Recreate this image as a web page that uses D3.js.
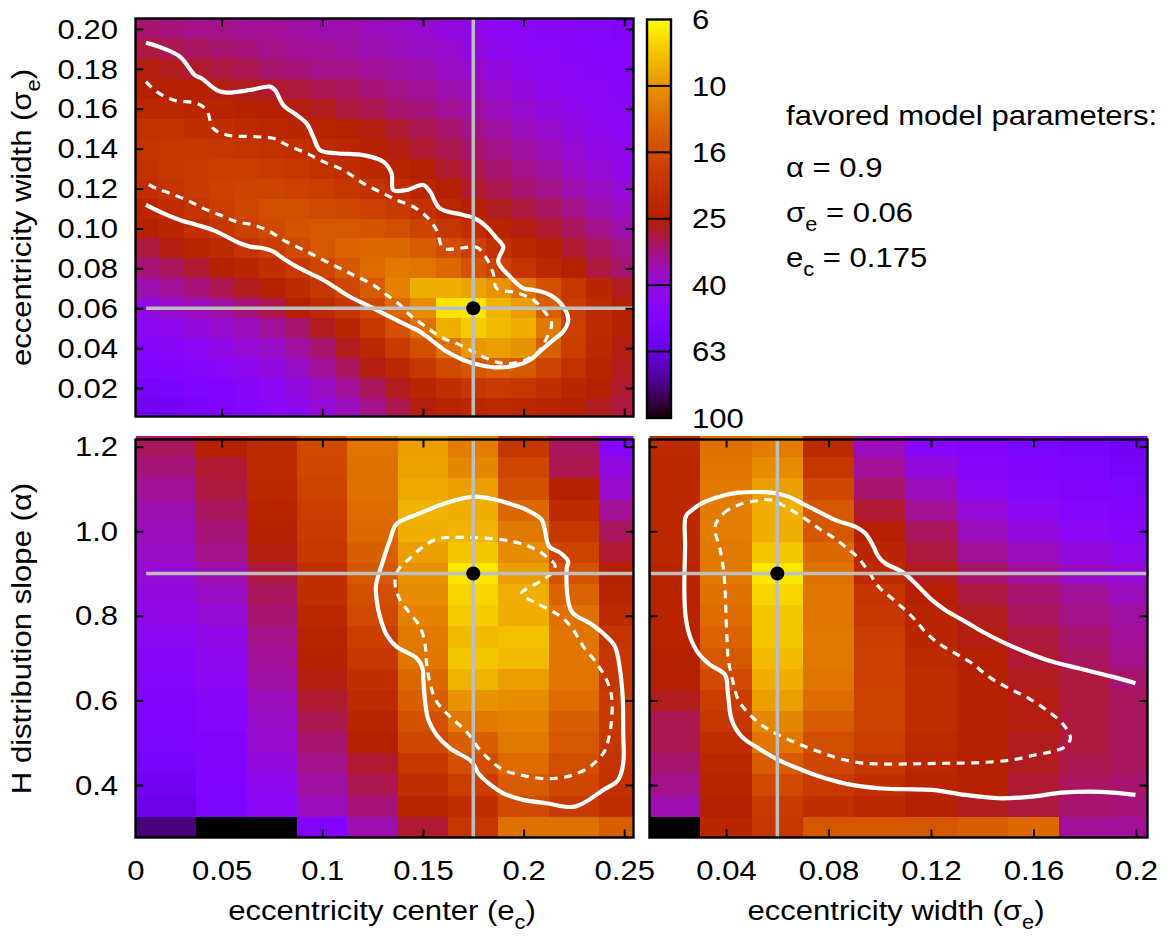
<!DOCTYPE html>
<html><head><meta charset="utf-8">
<script src="https://cdn.jsdelivr.net/npm/d3@7/dist/d3.min.js"></script>
<style>
html,body{margin:0;padding:0;background:#fff}
svg text{font-family:"Liberation Sans",Arial,Helvetica,sans-serif;fill:#000}
</style></head><body>
<svg id="chart" width="1172" height="937"></svg>
<script>
// ---------------- DATA ----------------
// top panel: chi2 over (eccentricity center, eccentricity width)
const topEc = [0.0125,0.025,0.0375,0.05,0.0625,0.075,0.0875,0.1,0.1125,0.125,0.1375,0.15,0.1625,0.175,0.1875,0.2,0.2125,0.225,0.2375,0.25];
const topSigma = [0.20,0.19,0.18,0.17,0.16,0.15,0.14,0.13,0.12,0.11,0.10,0.09,0.08,0.07,0.06,0.05,0.04,0.03,0.02,0.01];
const topChi2 = [
[30.5,31.3,32.2,32.2,33.1,33.1,34.0,35.0,35.0,36.0,37.0,38.0,40.2,41.3,43.7,44.9,46.1,47.4,47.4,48.8],
[28.1,28.8,29.6,30.5,31.3,32.2,33.1,33.1,34.0,35.0,36.0,37.0,38.0,40.2,42.5,43.7,44.9,46.1,47.4,47.4],
[25.8,26.5,27.3,28.1,28.8,30.5,31.3,32.2,32.2,33.1,34.0,35.0,37.0,38.0,40.2,42.5,43.7,44.9,46.1,47.4],
[24.4,24.4,25.1,25.8,26.5,27.3,28.1,28.8,29.6,31.3,32.2,33.1,35.0,36.0,38.0,40.2,42.5,43.7,44.9,46.1],
[22.5,22.5,23.1,23.8,24.4,25.1,25.8,26.5,28.1,28.8,30.5,31.3,33.1,34.0,36.0,38.0,40.2,42.5,43.7,44.9],
[20.1,20.1,20.7,21.3,21.9,22.5,23.1,23.8,25.1,25.8,27.3,28.8,30.5,32.2,34.0,36.0,38.0,40.2,42.5,43.7],
[19.6,19.1,19.1,19.1,19.6,20.1,20.7,21.9,23.1,24.4,25.8,27.3,28.8,30.5,32.2,34.0,36.0,39.1,41.3,42.5],
[20.1,19.1,18.5,18.0,18.0,18.5,19.1,20.1,21.3,22.5,23.8,25.1,27.3,28.8,30.5,32.2,34.0,37.0,39.1,41.3],
[21.3,19.6,18.5,17.5,17.1,17.1,17.5,18.0,19.1,20.1,21.3,23.1,25.1,27.3,28.8,30.5,32.2,35.0,37.0,39.1],
[23.1,21.3,19.6,18.0,16.6,15.7,15.7,16.1,16.6,17.5,18.5,20.1,22.5,24.4,26.5,28.1,29.6,32.2,35.0,37.0],
[25.1,23.1,21.3,19.1,17.5,16.1,14.9,14.5,14.5,14.9,15.7,17.1,19.1,21.3,23.8,25.8,27.3,29.6,32.2,35.0],
[28.1,25.8,23.8,21.9,19.6,18.0,16.1,14.5,13.3,12.9,12.9,14.1,15.7,17.5,20.1,22.5,25.1,27.3,29.6,32.2],
[31.3,29.6,27.3,25.1,23.1,20.7,18.5,16.6,14.5,12.6,11.6,11.9,12.9,14.9,17.1,19.6,22.5,25.1,28.1,30.5],
[35.0,33.1,31.3,28.8,26.5,24.4,21.9,19.1,16.6,14.1,11.0,8.8,8.8,9.3,10.1,12.2,15.3,19.1,23.1,26.5],
[40.2,38.0,36.0,34.0,31.3,28.8,25.1,21.9,19.1,16.1,12.9,10.4,7.0,6.9,8.6,9.5,13.7,18.0,21.9,25.1],
[43.7,42.5,40.2,38.0,36.0,33.1,30.5,26.5,23.1,19.1,15.3,12.2,8.8,7.7,8.3,8.8,11.6,17.5,21.9,25.1],
[47.4,46.1,43.7,41.3,39.1,37.0,34.0,30.5,26.5,22.5,18.5,15.3,12.2,9.8,9.5,10.1,13.7,18.0,22.5,25.8],
[50.1,48.8,47.4,44.9,42.5,40.2,37.0,33.1,29.6,25.8,22.5,19.1,16.1,14.5,13.7,14.5,17.1,20.1,23.8,26.5],
[54.5,53.0,50.1,48.8,46.1,43.7,40.2,37.0,33.1,29.6,26.5,23.1,20.7,19.1,18.5,19.1,20.7,23.1,25.1,27.3],
[57.5,56.0,53.0,50.1,47.4,44.9,42.5,39.1,36.0,32.2,28.8,25.8,23.8,22.5,21.9,22.5,23.8,25.1,26.5,28.1]];

// bottom panels: alpha rows
const botAlpha = [1.20,1.15,1.10,1.05,1.00,0.95,0.90,0.85,0.80,0.75,0.70,0.65,0.60,0.55,0.50,0.45,0.40,0.35,0.30];
const botEc = [0.025,0.05,0.075,0.1,0.125,0.15,0.175,0.2,0.225,0.25];
const ecAlphaChi2 = [
[29.6,25.1,21.9,16.1,11.9,9.5,11.3,19.1,29.6,46.1],
[31.3,27.3,21.9,16.6,12.2,9.3,10.7,16.6,28.8,40.2],
[33.1,28.1,22.5,17.1,12.2,9.0,9.5,15.3,25.1,38.0],
[35.0,29.6,23.8,18.0,12.6,8.6,8.8,12.9,21.9,33.1],
[36.0,31.3,25.1,18.5,12.9,8.8,8.6,11.6,19.1,29.6],
[37.0,32.2,25.8,19.1,13.7,9.5,7.9,10.4,17.1,27.3],
[39.1,35.0,28.1,20.7,14.5,10.1,6.9,9.5,14.9,25.1],
[40.2,37.0,29.6,21.3,15.7,10.4,7.4,8.8,13.3,23.1],
[41.3,39.1,30.5,22.5,16.1,11.0,7.7,8.8,12.2,21.9],
[43.7,41.3,32.2,23.8,18.0,11.6,8.3,8.1,11.9,19.6],
[46.1,42.5,33.1,24.4,19.1,11.9,7.9,8.3,11.9,19.1],
[47.4,43.7,34.0,25.8,20.7,12.9,8.6,9.5,11.9,19.1],
[48.8,46.1,36.0,27.3,21.9,13.7,10.1,10.4,12.6,18.5],
[50.1,47.4,37.0,28.8,23.8,15.3,11.6,11.0,13.7,18.5],
[51.5,48.8,38.0,30.5,25.1,16.6,13.7,11.6,14.5,19.1],
[54.5,48.8,40.2,32.2,27.3,19.1,15.7,12.6,15.7,19.6],
[57.5,50.1,42.5,34.0,28.8,21.3,18.0,14.1,16.6,20.1],
[60.8,51.5,44.9,36.0,31.3,23.8,21.3,16.1,18.5,21.3],
[80.2,120,120,48.8,35.0,27.3,19.1,12.2,12.2,13.7]];

const botSigma = [0.02,0.04,0.06,0.08,0.10,0.12,0.14,0.16,0.18,0.20];
const sigmaAlphaChi2 = [
[21.9,12.2,11.3,21.9,36.0,46.1,48.8,51.5,54.5,57.5],
[22.5,11.9,10.4,19.1,33.1,40.2,46.1,48.8,51.5,54.5],
[22.5,11.6,9.5,16.6,30.5,36.0,43.7,47.4,48.8,51.5],
[22.5,11.3,8.8,14.5,27.3,33.1,39.1,43.7,47.4,48.8],
[22.5,11.3,8.8,14.5,25.1,29.6,36.0,40.2,43.7,46.1],
[22.5,11.6,7.9,12.9,23.1,28.1,33.1,36.0,40.2,42.5],
[23.8,11.6,6.9,12.2,21.9,26.5,30.5,33.1,37.0,39.1],
[23.8,12.2,7.4,11.9,19.6,25.1,28.1,30.5,33.1,36.0],
[23.8,12.6,7.9,11.9,19.1,23.8,26.5,29.6,32.2,34.0],
[23.8,13.3,7.9,11.6,18.0,23.1,25.8,28.1,30.5,33.1],
[25.1,14.5,8.3,11.6,17.5,21.9,25.1,27.3,29.6,32.2],
[25.1,16.1,8.8,11.9,17.5,21.3,24.4,26.5,28.1,30.5],
[26.5,18.0,9.5,12.6,17.1,21.3,24.4,25.8,28.1,29.6],
[28.8,19.1,10.7,14.1,17.1,21.3,24.4,25.8,28.1,29.6],
[28.8,21.3,11.9,15.7,18.0,21.9,25.1,26.5,28.1,29.6],
[30.5,22.5,14.1,16.6,19.1,22.5,25.1,26.5,28.8,29.6],
[32.2,23.8,16.1,18.5,20.7,23.8,25.1,27.3,29.6,30.5],
[35.0,25.1,18.5,20.7,22.5,25.1,26.5,28.1,30.5,31.3],
[120,23.1,19.1,14.5,14.5,14.5,13.7,12.9,33.1,33.1]];

// confidence contours (data units)
const topOuter = [[0.0124,0.1931],[0.0210,0.1903],[0.0293,0.1861],[0.0367,0.1769],[0.0400,0.1753],[0.0475,0.1694],[0.0525,0.1681],[0.0641,0.1694],[0.0740,0.1711],[0.0765,0.1694],[0.0806,0.1619],[0.0872,0.1569],[0.0922,0.1527],[0.0955,0.1460],[0.0988,0.1393],[0.1071,0.1377],[0.1204,0.1368],[0.1303,0.1335],[0.1344,0.1277],[0.1353,0.1193],[0.1419,0.1193],[0.1502,0.1218],[0.1535,0.1185],[0.1584,0.1101],[0.1700,0.1068],[0.1758,0.1051],[0.1816,0.1009],[0.1866,0.0951],[0.1899,0.0909],[0.1874,0.0834],[0.1932,0.0759],[0.1998,0.0700],[0.2048,0.0692],[0.2131,0.0667],[0.2197,0.0608],[0.2222,0.0541],[0.2197,0.0483],[0.2147,0.0441],[0.2098,0.0399],[0.2032,0.0341],[0.1949,0.0311],[0.1866,0.0304],[0.1783,0.0316],[0.1700,0.0341],[0.1618,0.0383],[0.1551,0.0433],[0.1485,0.0483],[0.1435,0.0508],[0.1369,0.0541],[0.1286,0.0583],[0.1204,0.0625],[0.1137,0.0658],[0.1071,0.0700],[0.1005,0.0742],[0.0939,0.0775],[0.0872,0.0809],[0.0806,0.0850],[0.0757,0.0884],[0.0707,0.0901],[0.0641,0.0909],[0.0591,0.0926],[0.0525,0.0959],[0.0458,0.0992],[0.0376,0.1018],[0.0293,0.1043],[0.0210,0.1076],[0.0124,0.1118]];
const topInner = [[0.0124,0.1736],[0.0177,0.1686],[0.0260,0.1644],[0.0376,0.1627],[0.0425,0.1594],[0.0458,0.1502],[0.0525,0.1469],[0.0674,0.1460],[0.0757,0.1452],[0.0823,0.1419],[0.0922,0.1377],[0.1005,0.1335],[0.1104,0.1293],[0.1204,0.1226],[0.1303,0.1176],[0.1369,0.1143],[0.1452,0.1109],[0.1518,0.1059],[0.1568,0.0992],[0.1601,0.0901],[0.1684,0.0901],[0.1767,0.0906],[0.1816,0.0850],[0.1849,0.0775],[0.1866,0.0700],[0.1965,0.0678],[0.2048,0.0642],[0.2098,0.0591],[0.2139,0.0525],[0.2114,0.0449],[0.2065,0.0374],[0.1982,0.0332],[0.1899,0.0324],[0.1816,0.0349],[0.1733,0.0391],[0.1667,0.0424],[0.1601,0.0449],[0.1502,0.0516],[0.1435,0.0566],[0.1386,0.0617],[0.1320,0.0667],[0.1253,0.0717],[0.1170,0.0759],[0.1104,0.0792],[0.1021,0.0834],[0.0939,0.0876],[0.0872,0.0909],[0.0806,0.0942],[0.0740,0.0984],[0.0657,0.1018],[0.0574,0.1034],[0.0492,0.1068],[0.0409,0.1101],[0.0326,0.1143],[0.0243,0.1176],[0.0177,0.1201],[0.0124,0.1226]];
const ecAlphaOuter = [[0.1758,1.0819],[0.1866,1.0740],[0.1965,1.0598],[0.2032,1.0464],[0.2090,1.0267],[0.2128,0.9637],[0.2181,0.9495],[0.2222,0.9282],[0.2214,0.9125],[0.2239,0.8100],[0.2330,0.7824],[0.2404,0.7548],[0.2454,0.7273],[0.2479,0.6721],[0.2492,0.6091],[0.2495,0.5224],[0.2495,0.4515],[0.2470,0.4121],[0.2396,0.3884],[0.2255,0.3490],[0.2114,0.3569],[0.1998,0.3648],[0.1899,0.3805],[0.1825,0.4042],[0.1775,0.4278],[0.1742,0.4554],[0.1634,0.4869],[0.1568,0.5184],[0.1527,0.5539],[0.1510,0.6012],[0.1502,0.6485],[0.1498,0.6760],[0.1469,0.6997],[0.1369,0.7273],[0.1320,0.7548],[0.1286,0.7982],[0.1270,0.8376],[0.1267,0.8731],[0.1303,0.9322],[0.1336,0.9794],[0.1369,1.0173],[0.1485,1.0425],[0.1618,1.0677]];
const ecAlphaInner = [[0.1700,0.9857],[0.1949,0.9755],[0.2065,0.9558],[0.2123,0.9361],[0.2156,0.9203],[0.2139,0.9006],[0.2081,0.8809],[0.1990,0.8533],[0.2048,0.8336],[0.2131,0.8139],[0.2197,0.7942],[0.2247,0.7667],[0.2297,0.7273],[0.2363,0.6879],[0.2412,0.6485],[0.2437,0.6091],[0.2437,0.5539],[0.2421,0.5066],[0.2396,0.4751],[0.2330,0.4436],[0.2247,0.4239],[0.2164,0.4160],[0.2081,0.4160],[0.1982,0.4239],[0.1899,0.4357],[0.1833,0.4593],[0.1783,0.4830],[0.1717,0.5263],[0.1634,0.5618],[0.1568,0.5972],[0.1535,0.6406],[0.1518,0.6879],[0.1510,0.7351],[0.1485,0.7745],[0.1435,0.8061],[0.1386,0.8376],[0.1361,0.8770],[0.1377,0.9085],[0.1435,0.9361],[0.1502,0.9637],[0.1568,0.9810]];
const sigmaAlphaOuter = [[0.1998,0.6406],[0.1907,0.6563],[0.1776,0.6760],[0.1672,0.6918],[0.1581,0.7115],[0.1490,0.7351],[0.1412,0.7588],[0.1334,0.7864],[0.1255,0.8139],[0.1203,0.8376],[0.1164,0.8612],[0.1125,0.8849],[0.1086,0.9046],[0.1021,0.9243],[0.0995,0.9400],[0.0969,0.9716],[0.0943,0.9952],[0.0904,1.0110],[0.0832,1.0251],[0.0761,1.0464],[0.0696,1.0661],[0.0643,1.0819],[0.0578,1.0913],[0.0513,1.0929],[0.0448,1.0913],[0.0383,1.0835],[0.0305,1.0661],[0.0259,1.0464],[0.0242,1.0346],[0.0240,0.9637],[0.0237,0.8612],[0.0242,0.7982],[0.0259,0.7509],[0.0292,0.7115],[0.0338,0.6839],[0.0396,0.6603],[0.0407,0.6169],[0.0422,0.5539],[0.0461,0.5145],[0.0526,0.4869],[0.0604,0.4593],[0.0696,0.4357],[0.0787,0.4160],[0.0891,0.4002],[0.0995,0.3924],[0.1099,0.3900],[0.1203,0.3884],[0.1334,0.3766],[0.1464,0.3687],[0.1594,0.3726],[0.1711,0.3821],[0.1828,0.3845],[0.1907,0.3821],[0.1998,0.3766]];
const sigmaAlphaInner = [[0.0357,1.0110],[0.0390,1.0425],[0.0448,1.0622],[0.0513,1.0716],[0.0578,1.0740],[0.0630,1.0582],[0.0696,1.0346],[0.0761,1.0070],[0.0813,0.9873],[0.0865,0.9637],[0.0917,0.9361],[0.0956,0.9046],[0.0995,0.8691],[0.1047,0.8415],[0.1099,0.8139],[0.1138,0.7903],[0.1177,0.7627],[0.1229,0.7351],[0.1295,0.7115],[0.1360,0.6879],[0.1425,0.6563],[0.1503,0.6288],[0.1581,0.6051],[0.1659,0.5736],[0.1718,0.5421],[0.1744,0.5106],[0.1724,0.4909],[0.1672,0.4790],[0.1607,0.4712],[0.1516,0.4593],[0.1386,0.4530],[0.1255,0.4515],[0.1125,0.4499],[0.0995,0.4499],[0.0917,0.4530],[0.0839,0.4633],[0.0761,0.4790],[0.0683,0.4972],[0.0604,0.5184],[0.0539,0.5421],[0.0487,0.5697],[0.0448,0.6012],[0.0425,0.6485],[0.0409,0.6957],[0.0403,0.7509],[0.0399,0.8139],[0.0396,0.8612],[0.0390,0.9085],[0.0377,0.9558]];

// best fit parameters
const bestAlpha = 0.9, bestSigma = 0.06, bestEc = 0.175;
const lineStartEc = 0.0125, lineStartSigma = 0.0105;

// ticks & labels
const ecTicks = [0.05,0.1,0.15,0.2,0.25];
const ecLabelTicks = [0,0.05,0.1,0.15,0.2,0.25];
const ecLabels = ["0","0.05","0.1","0.15","0.2","0.25"];
const sigmaXTicks = [0.04,0.08,0.12,0.16,0.2];
const sigmaXLabels = ["0.04","0.08","0.12","0.16","0.2"];
const sigmaYTicks = [0.02,0.04,0.06,0.08,0.10,0.12,0.14,0.16,0.18,0.20];
const alphaTicks = [0.4,0.6,0.8,1.0,1.2];
const cbTicks = [6.3096,10,15.849,25.119,39.811,63.096,100];
const cbLabels = ["6","10","16","25","40","63","100"];

// ---------------- DRAWING ----------------
const FS = 28.5, SX = 1.09;
const svg = d3.select("#chart");
const cbMin = 6.3096, cbMax = 100;
const grayOf = d3.scaleLog().domain([cbMax, cbMin]).range([0, 1]).clamp(true);
function pm3d(v) {
  const g = grayOf(v);
  return d3.rgb(255*Math.sqrt(g), 255*g*g*g, 255*Math.max(0, Math.min(1, Math.sin(2*Math.PI*g)))).formatHex();
}

const xEc = d3.scaleLinear().domain([0.0072, 0.2546]).range([135.5, 633.5]);
const ySig = d3.scaleLinear().domain([0.00576, 0.20526]).range([416.5, 18.5]);
const yAl = d3.scaleLinear().domain([0.2759, 1.217]).range([837.5, 439.5]);
const xSig = d3.scaleLinear().domain([0.0101, 0.2045]).range([649.5, 1147.5]);

function heat(g, id, x, y, xs, ys, z, xw, yw, extraTop) {
  const [x0, x1] = x.range(), [yb, yt] = y.range();
  g.append("clipPath").attr("id", id).append("rect")
    .attr("x", x0).attr("y", yt - extraTop).attr("width", x1 - x0).attr("height", yb - yt + extraTop);
  const cells = [];
  z.forEach((row, i) => row.forEach((v, j) => cells.push({v, cx: xs[j], cy: ys[i], first: j === 0})));
  const left = d => d.first ? Math.min(x.domain()[0], d.cx - xw/2) : d.cx - xw/2;
  g.append("g").attr("clip-path", `url(#${id})`).selectAll("rect").data(cells).join("rect")
    .attr("x", d => x(left(d)))
    .attr("y", d => y(d.cy + yw/2))
    .attr("width", d => x(d.cx + xw/2) - x(left(d)) + 0.6)
    .attr("height", d => y(d.cy - yw/2) - y(d.cy + yw/2) + 0.6)
    .attr("fill", d => pm3d(d.v))
    .attr("shape-rendering", "crispEdges");
}

function contour(g, id, x, y, pts, closed, dashed) {
  const line = d3.line().x(d => x(d[0])).y(d => y(d[1]))
    .curve(closed ? d3.curveCatmullRomClosed.alpha(0.5) : d3.curveCatmullRom.alpha(0.5));
  g.append("path").attr("clip-path", `url(#${id})`).attr("d", line(pts))
    .attr("fill", "none").attr("stroke", "#fff")
    .attr("stroke-width", dashed ? 3.2 : 4.2)
    .attr("stroke-dasharray", dashed ? "8,6.5" : null)
    .attr("stroke-linejoin", "round");
}

function crosshair(g, x, y, vx, vy, hStart) {
  const [x0, x1] = x.range(), [yb, yt] = y.range();
  g.append("line").attr("x1", x(hStart)).attr("x2", x1).attr("y1", y(vy)).attr("y2", y(vy))
    .attr("stroke", "#bebebe").attr("stroke-width", 3.5);
  g.append("line").attr("x1", x(vx)).attr("x2", x(vx)).attr("y1", yt).attr("y2", yb)
    .attr("stroke", "#bebebe").attr("stroke-width", 3.5);
  g.append("circle").attr("cx", x(vx)).attr("cy", y(vy)).attr("r", 7).attr("fill", "#000");
}

function frameTicks(g, x, y, xt, yt) {
  const [x0, x1] = x.range(), [yb, ytop] = y.range();
  const st = s => { s.select(".domain").remove(); s.selectAll("line").attr("stroke", "#000").attr("stroke-width", 2); };
  g.append("g").attr("transform", `translate(0,${yb})`).call(d3.axisBottom(x).tickValues(xt).tickSize(-8).tickFormat("")).call(st);
  g.append("g").attr("transform", `translate(0,${ytop})`).call(d3.axisTop(x).tickValues(xt).tickSize(-8).tickFormat("")).call(st);
  g.append("g").attr("transform", `translate(${x0},0)`).call(d3.axisLeft(y).tickValues(yt).tickSize(-8).tickFormat("")).call(st);
  g.append("g").attr("transform", `translate(${x1},0)`).call(d3.axisRight(y).tickValues(yt).tickSize(-8).tickFormat("")).call(st);
  g.append("rect").attr("x", x0).attr("y", ytop).attr("width", x1 - x0).attr("height", yb - ytop)
    .attr("fill", "none").attr("stroke", "#000").attr("stroke-width", 2.4);
}

function styleLabels(a) {
  a.select(".domain").remove();
  a.selectAll("line").remove();
  a.attr("font-size", null).attr("font-family", null);
  a.selectAll("text").style("font-size", FS + "px").attr("fill", "#000").attr("transform", `scale(${SX},1)`);
}

function richText(g, x, y, parts, anchor, rotate) {
  const t = g.append("text")
    .attr("transform", `translate(${x},${y}) rotate(${rotate || 0}) scale(${SX},1)`)
    .attr("text-anchor", anchor || "start").style("font-size", FS + "px");
  let shift = 0;
  parts.forEach(p => {
    const s = t.append("tspan").text(p.t);
    if (p.sub) { s.attr("dy", 9 - shift).style("font-size", "20px"); shift = 9; }
    else if (shift) { s.attr("dy", -shift); shift = 0; }
  });
}

// ---- top panel ----
const gTop = svg.append("g");
heat(gTop, "clipTop", xEc, ySig, topEc, topSigma, topChi2, 0.0125, 0.01, 0);
contour(gTop, "clipTop", xEc, ySig, topOuter, false, false);
contour(gTop, "clipTop", xEc, ySig, topInner, false, true);
crosshair(gTop, xEc, ySig, bestEc, bestSigma, lineStartEc);
frameTicks(gTop, xEc, ySig, ecTicks, sigmaYTicks);
gTop.append("g").attr("transform", `translate(${xEc.range()[0]},0)`)
  .call(d3.axisLeft(ySig).tickValues(sigmaYTicks).tickSize(0).tickPadding(16).tickFormat(d3.format(".2f"))).call(styleLabels);

// ---- bottom-left panel ----
const gBL = svg.append("g");
heat(gBL, "clipBL", xEc, yAl, botEc, botAlpha, ecAlphaChi2, 0.025, 0.05, 4);
contour(gBL, "clipBL", xEc, yAl, ecAlphaOuter, true, false);
contour(gBL, "clipBL", xEc, yAl, ecAlphaInner, true, true);
crosshair(gBL, xEc, yAl, bestEc, bestAlpha, lineStartEc);
frameTicks(gBL, xEc, yAl, ecTicks, alphaTicks);
gBL.append("g").attr("transform", `translate(${xEc.range()[0]},0)`)
  .call(d3.axisLeft(yAl).tickValues(alphaTicks).tickSize(0).tickPadding(16).tickFormat(d3.format(".1f"))).call(styleLabels);
gBL.append("g").attr("transform", `translate(0,${yAl.range()[0]})`)
  .call(d3.axisBottom(xEc).tickValues(ecLabelTicks.map(v => Math.max(v, xEc.domain()[0]))).tickSize(0).tickPadding(22)
  .tickFormat((d, i) => ecLabels[i])).call(styleLabels);

// ---- bottom-right panel ----
const gBR = svg.append("g");
heat(gBR, "clipBR", xSig, yAl, botSigma, botAlpha, sigmaAlphaChi2, 0.02, 0.05, 4);
contour(gBR, "clipBR", xSig, yAl, sigmaAlphaOuter, false, false);
contour(gBR, "clipBR", xSig, yAl, sigmaAlphaInner, true, true);
crosshair(gBR, xSig, yAl, bestSigma, bestAlpha, lineStartSigma);
frameTicks(gBR, xSig, yAl, sigmaXTicks, alphaTicks);
gBR.append("g").attr("transform", `translate(0,${yAl.range()[0]})`)
  .call(d3.axisBottom(xSig).tickValues(sigmaXTicks).tickSize(0).tickPadding(22)
  .tickFormat((d, i) => sigmaXLabels[i])).call(styleLabels);

// ---- colour bar ----
const cbY = d3.scaleLog().domain([cbMin, cbMax]).range([19.5, 418]);
const cbX0 = 647, cbX1 = 671;
const gCB = svg.append("g");
gCB.selectAll("rect.s").data(d3.range(cbY.range()[0], cbY.range()[1], 1)).join("rect").attr("class", "s")
  .attr("x", cbX0).attr("width", cbX1 - cbX0).attr("y", d => d).attr("height", 1.2)
  .attr("fill", d => pm3d(cbY.invert(d + 0.5))).attr("shape-rendering", "crispEdges");
gCB.selectAll("line.t").data(cbTicks.slice(1, -1)).join("line").attr("class", "t")
  .attr("x1", cbX0).attr("x2", cbX1).attr("y1", d => cbY(d)).attr("y2", d => cbY(d))
  .attr("stroke", "#000").attr("stroke-width", 2);
gCB.append("rect").attr("x", cbX0).attr("y", cbY.range()[0]).attr("width", cbX1 - cbX0)
  .attr("height", cbY.range()[1] - cbY.range()[0]).attr("fill", "none").attr("stroke", "#000").attr("stroke-width", 2.4);
gCB.append("g").attr("transform", `translate(${cbX1},0)`)
  .call(d3.axisRight(cbY).tickValues(cbTicks).tickSize(0).tickPadding(19.3).tickFormat((d, i) => cbLabels[i])).call(styleLabels);

// ---- axis titles ----
const gT = svg.append("g");
richText(gT, 382, 920, [{t: "eccentricity center (e"}, {t: "c", sub: true}, {t: ")"}], "middle");
richText(gT, 896, 920, [{t: "eccentricity width (σ"}, {t: "e", sub: true}, {t: ")"}], "middle");
richText(gT, 31, 217.5, [{t: "eccentricity width (σ"}, {t: "e", sub: true}, {t: ")"}], "middle", -90);
richText(gT, 31, 638.5, [{t: "H distribution slope (α)"}], "middle", -90);

// ---- favored parameters note ----
richText(gT, 786, 125, [{t: "favored model parameters:"}], "start");
richText(gT, 786, 177, [{t: "α = " + bestAlpha}], "start");
richText(gT, 786, 222, [{t: "σ"}, {t: "e", sub: true}, {t: " = " + bestSigma}], "start");
richText(gT, 786, 267, [{t: "e"}, {t: "c", sub: true}, {t: " = " + bestEc}], "start");
</script>
</body></html>
